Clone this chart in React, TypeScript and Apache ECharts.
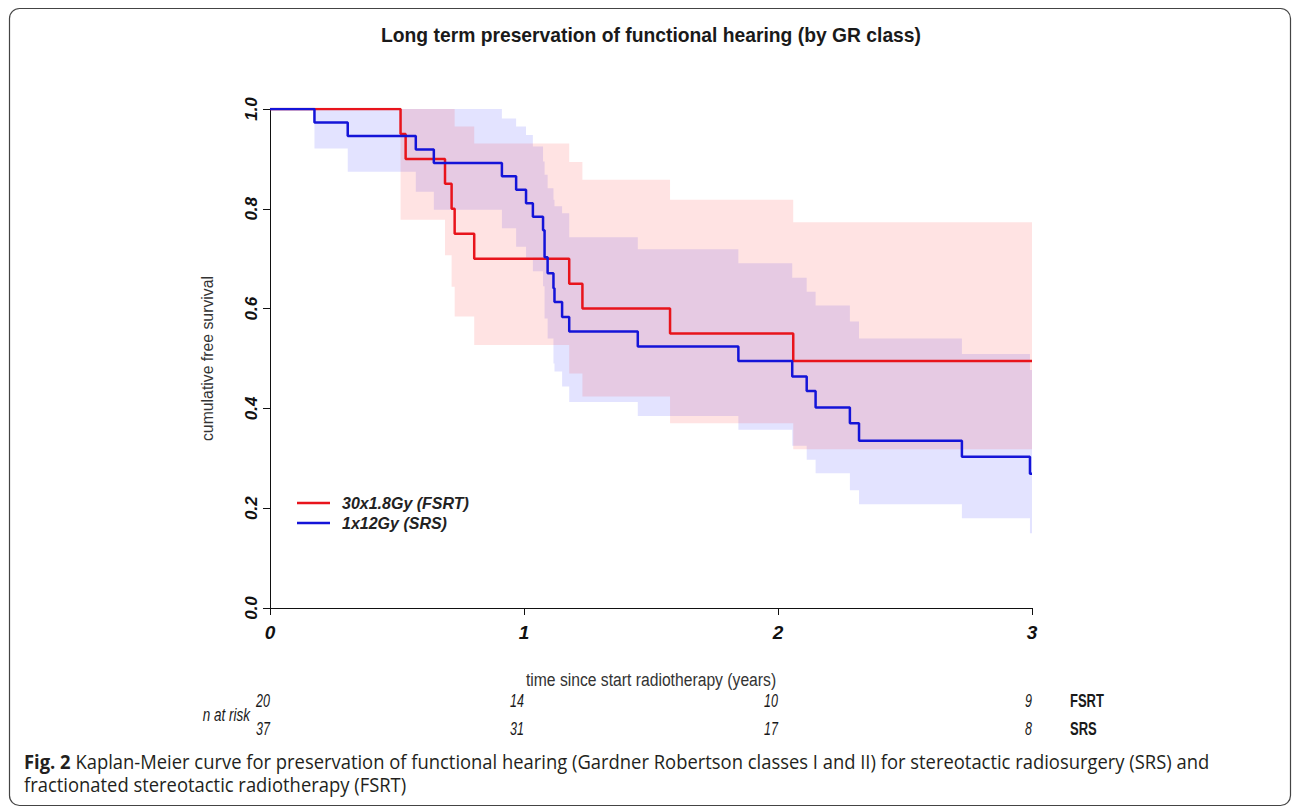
import React, { useEffect, useRef } from "react";
import * as echarts from "echarts";

// ---- data ----
const xTicks = [0, 1, 2, 3];
const yTicks = [0, 0.2, 0.4, 0.6, 0.8, 1.0];

const fsrtName = "30x1.8Gy (FSRT)";
const srsName = "1x12Gy (SRS)";

// FSRT Kaplan-Meier step curve
const fsrtTimes = [0, 0.514, 0.534, 0.689, 0.715, 0.727, 0.804, 1.178, 1.23, 1.575, 2.06, 3.0];
const fsrtSurv = [1, 0.95, 0.9, 0.85, 0.8, 0.75, 0.7, 0.65, 0.6, 0.55, 0.495, 0.495];
// FSRT confidence band
const fsrtCiTimes = [0.514, 0.534, 0.689, 0.715, 0.727, 0.804, 1.178, 1.23, 1.575, 2.06, 3.0];
const fsrtUpper = [1, 1, 1, 1, 0.965, 0.931, 0.894, 0.858, 0.818, 0.773, 0.773];
const fsrtLower = [0.778, 0.778, 0.707, 0.644, 0.584, 0.527, 0.47, 0.424, 0.37, 0.318, 0.318];

// SRS Kaplan-Meier step curve
const srsTimes = [0, 0.175, 0.306, 0.574, 0.645, 0.913, 0.969, 1.008, 1.035, 1.075, 1.081, 1.093, 1.116, 1.12, 1.15, 1.178, 1.448, 1.844, 2.056, 2.113, 2.148, 2.283, 2.319, 2.724, 2.992, 3.0];
const srsSurv = [1, 0.973, 0.946, 0.919, 0.892, 0.865, 0.838, 0.811, 0.784, 0.757, 0.703, 0.671, 0.641, 0.613, 0.583, 0.554, 0.524, 0.495, 0.464, 0.435, 0.402, 0.37, 0.335, 0.303, 0.269, 0.269];
// SRS confidence band
const srsCiTimes = [0.175, 0.306, 0.574, 0.645, 0.913, 0.969, 1.008, 1.035, 1.075, 1.081, 1.093, 1.116, 1.12, 1.15, 1.178, 1.448, 1.844, 2.056, 2.113, 2.148, 2.283, 2.319, 2.724, 2.992, 3.0];
const srsUpper = [1, 1, 1, 1, 0.981, 0.965, 0.948, 0.925, 0.895, 0.868, 0.841, 0.818, 0.805, 0.791, 0.743, 0.719, 0.691, 0.662, 0.634, 0.606, 0.574, 0.54, 0.509, 0.477, 0.477];
const srsLower = [0.921, 0.874, 0.834, 0.798, 0.761, 0.724, 0.702, 0.675, 0.645, 0.58, 0.54, 0.49, 0.474, 0.444, 0.413, 0.385, 0.357, 0.325, 0.297, 0.27, 0.236, 0.208, 0.18, 0.15, 0.15];

// number at risk table
const riskTimes = [0, 1, 2, 3];
const riskFSRT = [20, 14, 10, 9];
const riskSRS = [37, 31, 17, 8];
const riskGroups = ["FSRT", "SRS"];

const titleText = "Long term preservation of functional hearing (by GR class)";
const yTitle = "cumulative free survival";
const xTitle = "time since start radiotherapy (years)";
const captionBold = "Fig. 2";
const captionLine1 = " Kaplan-Meier curve for preservation of functional hearing (Gardner Robertson classes I and II) for stereotactic radiosurgery (SRS) and";
const captionLine2 = "fractionated stereotactic radiotherapy (FSRT)";

const SANS = "'Liberation Sans', Arial, sans-serif";
const CAPTION = "'Open Sans', sans-serif";

function bandSeries(name: string, times: number[], lower: number[], upper: number[], color: string) {
  return {
    type: "custom",
    name,
    silent: true,
    clip: true,
    data: times.map((t, i) => [t, lower[i], upper[i]]),
    encode: { x: 0, y: [1, 2] },
    renderItem: (params: any, api: any) => {
      if (params.dataIndex !== 0) return { type: "group", children: [] };
      const pts: number[][] = [];
      for (let i = 0; i < times.length - 1; i++) {
        pts.push(api.coord([times[i], upper[i]]));
        pts.push(api.coord([times[i + 1], upper[i]]));
      }
      for (let i = times.length - 2; i >= 0; i--) {
        pts.push(api.coord([times[i + 1], lower[i]]));
        pts.push(api.coord([times[i], lower[i]]));
      }
      return { type: "polygon", shape: { points: pts }, style: { fill: color } };
    },
  };
}

export default function App() {
  const ref = useRef<HTMLDivElement>(null);

  useEffect(() => {
    const chart = echarts.init(ref.current!, null, { renderer: "svg" });
    const option: any = {
      animation: false,
      backgroundColor: "#ffffff",
      grid: { left: 270, right: 260, top: 109, bottom: 200 },
      xAxis: {
        type: "value",
        min: 0,
        max: 3,
        interval: 1,
        axisLine: { show: true, onZero: false, lineStyle: { color: "#111", width: 1 } },
        axisTick: { show: true, length: 7, lineStyle: { color: "#111" } },
        splitLine: { show: false },
        axisLabel: {
          margin: 15,
          color: "#111",
          fontSize: 19,
          fontWeight: "bold",
          fontStyle: "italic",
          fontFamily: SANS,
          formatter: (v: number) => (xTicks.includes(v) ? String(v) : ""),
        },
      },
      yAxis: {
        type: "value",
        min: 0,
        max: 1,
        interval: 0.2,
        axisLine: { show: true, onZero: false, lineStyle: { color: "#111", width: 1 } },
        axisTick: { show: true, length: 7, lineStyle: { color: "#111" } },
        splitLine: { show: false },
        axisLabel: {
          rotate: 90,
          margin: 10,
          color: "#111",
          fontSize: 17,
          fontWeight: "bold",
          fontStyle: "italic",
          fontFamily: SANS,
          formatter: (v: number) => (yTicks.some((t) => Math.abs(t - v) < 1e-9) ? v.toFixed(1) : ""),
        },
      },
      legend: {
        data: [fsrtName, srsName],
        orient: "vertical",
        left: 297,
        top: 494,
        padding: 0,
        icon: "rect",
        itemWidth: 33,
        itemHeight: 2.5,
        itemGap: 2,
        textStyle: {
          fontSize: 16,
          fontWeight: "bold",
          fontStyle: "italic",
          fontFamily: SANS,
          color: "#222",
          lineHeight: 18,
          padding: [0, 0, 0, 7],
        },
      },
      series: [
        bandSeries("SRS CI", srsCiTimes, srsLower, srsUpper, "rgba(0,0,255,0.11)"),
        bandSeries("FSRT CI", fsrtCiTimes, fsrtLower, fsrtUpper, "rgba(255,0,0,0.11)"),
        {
          type: "line",
          name: fsrtName,
          step: "end",
          symbol: "none",
          color: "#e8141c",
          lineStyle: { width: 2.5, color: "#e8141c" },
          data: fsrtTimes.map((t, i) => [t, fsrtSurv[i]]),
        },
        {
          type: "line",
          name: srsName,
          step: "end",
          symbol: "none",
          color: "#1414d8",
          lineStyle: { width: 2.5, color: "#1414d8" },
          data: srsTimes.map((t, i) => [t, srsSurv[i]]),
        },
      ],
    };
    chart.setOption(option);

    const px = (t: number) => (chart.convertToPixel({ gridIndex: 0 }, [t, 0]) as number[])[0];
    const py = (v: number) => (chart.convertToPixel({ gridIndex: 0 }, [0, v]) as number[])[1];
    const plotMidX = (px(0) + px(3)) / 2;
    const plotMidY = (py(0) + py(1)) / 2;

    const riskRow = (vals: number[], y: number) =>
      vals.map((n, i) => ({
        type: "text",
        x: px(riskTimes[i]),
        y,
        scaleY: 1.4,
        style: {
          text: String(n),
          align: "right",
          verticalAlign: "middle",
          fontSize: 12.5,
          fontStyle: "italic",
          fontFamily: SANS,
          fill: "#1a1a1a",
        },
      }));

    const graphic: any[] = [
      {
        type: "rect",
        shape: { x: 9.5, y: 8.5, width: 1281, height: 797, r: 10 },
        style: { fill: "none", stroke: "#444", lineWidth: 1.2 },
        silent: true,
      },
      {
        type: "text",
        x: 651,
        y: 35,
        style: {
          text: titleText,
          align: "center",
          verticalAlign: "middle",
          fontSize: 19.3,
          fontWeight: "bold",
          fontFamily: SANS,
          fill: "#1a1a1a",
        },
      },
      {
        type: "text",
        x: 207,
        y: plotMidY,
        rotation: Math.PI / 2,
        style: {
          text: yTitle,
          align: "center",
          verticalAlign: "middle",
          fontSize: 15.8,
          fontFamily: SANS,
          fill: "#333",
        },
      },
      {
        type: "text",
        x: plotMidX,
        y: 680,
        scaleY: 1.15,
        style: {
          text: xTitle,
          align: "center",
          verticalAlign: "middle",
          fontSize: 15.7,
          fontFamily: SANS,
          fill: "#333",
        },
      },
      ...riskRow(riskFSRT, 701),
      ...riskRow(riskSRS, 729),
      {
        type: "text",
        x: 250,
        y: 715,
        scaleY: 1.3,
        style: {
          text: "n at risk",
          align: "right",
          verticalAlign: "middle",
          fontSize: 13.5,
          fontStyle: "italic",
          fontFamily: SANS,
          fill: "#1a1a1a",
        },
      },
      ...riskGroups.map((g, i) => ({
        type: "text",
        x: 1070,
        y: i === 0 ? 701 : 729,
        scaleY: 1.35,
        style: {
          text: g,
          align: "left",
          verticalAlign: "middle",
          fontSize: 13,
          fontWeight: "bold",
          fontFamily: SANS,
          fill: "#1a1a1a",
        },
      })),
      {
        type: "text",
        x: 24,
        y: 762,
        scaleY: 1.05,
        style: {
          text: `{b|${captionBold}}${captionLine1}`,
          align: "left",
          verticalAlign: "middle",
          fontSize: 18.4,
          fontFamily: CAPTION,
          fill: "#231f20",
          rich: {
            b: { fontSize: 18.4, fontWeight: "bold", fontFamily: CAPTION, fill: "#231f20" },
          },
        },
      },
      {
        type: "text",
        x: 24,
        y: 785,
        scaleY: 1.05,
        style: {
          text: captionLine2,
          align: "left",
          verticalAlign: "middle",
          fontSize: 18.4,
          fontFamily: CAPTION,
          fill: "#231f20",
        },
      },
    ];
    chart.setOption({ graphic });

    return () => chart.dispose();
  }, []);

  return (
    <div
      ref={ref}
      style={{ position: "fixed", left: 0, top: 0, width: 1292, height: 808, background: "#fff" }}
    />
  );
}
